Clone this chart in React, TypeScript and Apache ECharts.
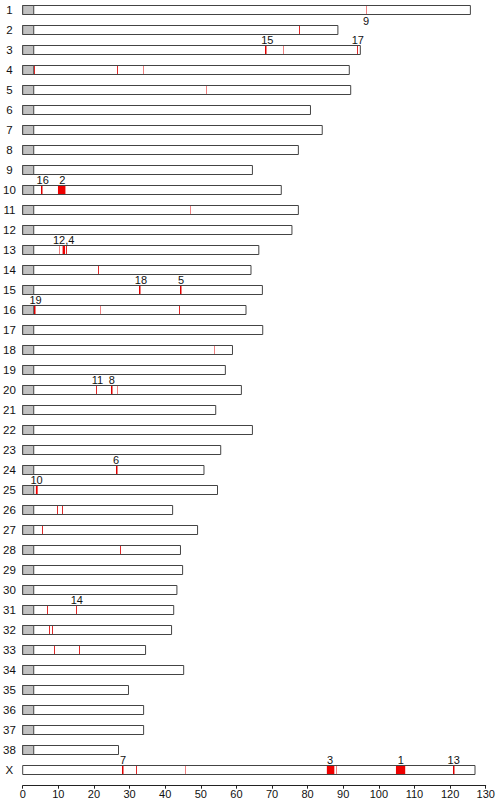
import React, { useEffect, useRef } from "react";
import * as echarts from "echarts";

const chromosomes = ["1","2","3","4","5","6","7","8","9","10","11","12","13","14","15","16","17","18","19","20","21","22","23","24","25","26","27","28","29","30","31","32","33","34","35","36","37","38","X"];
const lengths = [125.7, 88.5, 94.8, 91.7, 92.1, 80.8, 84.1, 77.4, 64.5, 72.6, 77.4, 75.6, 66.3, 64.1, 67.3, 62.7, 67.4, 58.9, 56.9, 61.4, 54.2, 64.5, 55.6, 50.9, 54.7, 42.1, 49.1, 44.3, 44.9, 43.3, 42.4, 41.8, 34.5, 45.2, 29.7, 33.95, 33.95, 26.9, 127.0];
const centromereEnds = [3.1,3.1,3.1,3.1,3.1,3.1,3.1,3.1,3.1,3.1,3.1,3.1,3.1,3.1,3.1,3.1,3.1,3.1,3.1,3.1,3.1,3.1,3.1,3.1,3.1,3.1,3.1,3.1,3.1,3.1,3.1,3.1,3.1,3.1,3.1,3.1,3.1,3.1,0];

// [chromosome, start, end, strength (1 weak .. 3 strong)]
const marks: [string, number, number, number][] = [
  ["1", 96.4, 96.4, 1],
  ["2", 77.7, 77.7, 2],
  ["3", 68.3, 68.3, 3],
  ["3", 73.1, 73.1, 1],
  ["3", 94.0, 94.0, 2],
  ["4", 3.3, 3.3, 2],
  ["4", 26.6, 26.6, 2],
  ["4", 33.8, 33.8, 1],
  ["5", 51.7, 51.7, 1],
  ["10", 5.4, 5.4, 3],
  ["10", 9.9, 12.0, 3],
  ["11", 47.1, 47.1, 1],
  ["13", 10.4, 10.4, 1],
  ["13", 11.2, 11.9, 3],
  ["13", 12.3, 12.3, 2],
  ["14", 21.2, 21.2, 2],
  ["15", 32.8, 32.8, 3],
  ["15", 44.3, 44.3, 3],
  ["16", 3.3, 3.3, 3],
  ["16", 21.8, 21.8, 1],
  ["16", 44.0, 44.0, 2],
  ["18", 53.8, 53.8, 1],
  ["20", 20.6, 20.6, 2],
  ["20", 24.9, 24.9, 3],
  ["20", 26.5, 26.5, 1],
  ["24", 26.4, 26.4, 3],
  ["25", 3.7, 4.2, 3],
  ["26", 9.8, 9.8, 2],
  ["26", 11.2, 11.2, 2],
  ["27", 5.6, 5.6, 2],
  ["28", 27.5, 27.5, 2],
  ["31", 7.0, 7.0, 2],
  ["31", 15.2, 15.2, 2],
  ["32", 7.6, 7.6, 2],
  ["32", 8.4, 8.4, 2],
  ["33", 9.0, 9.0, 2],
  ["33", 16.0, 16.0, 2],
  ["X", 28.2, 28.2, 3],
  ["X", 32.0, 32.0, 2],
  ["X", 45.7, 45.7, 1],
  ["X", 85.4, 87.5, 3],
  ["X", 88.2, 88.2, 1],
  ["X", 104.8, 107.4, 3],
  ["X", 121.0, 121.0, 3],
];

// [chromosome, position, label]
const markLabels: [string, number, string][] = [
  ["1", 96.4, "9"],
  ["3", 68.7, "15"],
  ["3", 94.1, "17"],
  ["10", 5.6, "16"],
  ["10", 11.1, "2"],
  ["13", 11.5, "12,4"],
  ["15", 33.2, "18"],
  ["15", 44.5, "5"],
  ["16", 3.6, "19"],
  ["20", 21.0, "11"],
  ["20", 25.0, "8"],
  ["24", 26.2, "6"],
  ["25", 3.9, "10"],
  ["31", 15.2, "14"],
  ["X", 28.2, "7"],
  ["X", 86.3, "3"],
  ["X", 106.2, "1"],
  ["X", 121.0, "13"],
];

const xTicks = { min: 0, max: 130, interval: 10 };

const FONT = "'Liberation Sans', Arial, sans-serif";
const BAR_H = 9;
const STRENGTH_COLORS = ["#f08080", "#e02828", "#e00000"];

export default function App() {
  const ref = useRef<HTMLDivElement>(null);
  useEffect(() => {
    if (!ref.current) return;
    const chart = echarts.init(ref.current, null, { renderer: "svg" });
    const idxOf = (c: string) => chromosomes.indexOf(c);

    const chromData = chromosomes.map((c, i) => [i, lengths[i], centromereEnds[i]]);
    const markData = marks.map((m) => [idxOf(m[0]), m[1], m[2], m[3]]);
    const labelData = markLabels.map((l) => [idxOf(l[0]), l[1], l[2]]);

    chart.setOption({
      animation: false,
      grid: { left: 22.3, right: 12.3, top: -2.2, bottom: 20, containLabel: false },
      xAxis: {
        type: "value",
        min: xTicks.min,
        max: xTicks.max,
        interval: xTicks.interval,
        offset: 5.7,
        splitLine: { show: false },
        axisLine: { show: true, lineStyle: { color: "#222", width: 1 } },
        axisTick: { show: true, length: 3, lineStyle: { color: "#222" } },
        axisLabel: { color: "#111", fontSize: 11, fontFamily: FONT, margin: 3 },
      },
      yAxis: {
        type: "category",
        data: chromosomes,
        inverse: true,
        axisLine: { show: false },
        axisTick: { show: false },
        splitLine: { show: false },
        axisLabel: { color: "#111", fontSize: 11.5, fontFamily: FONT, margin: 13.3, align: "center", interval: 0 },
      },
      series: [
        {
          type: "custom",
          coordinateSystem: "cartesian2d",
          encode: { x: [1, 2], y: 0 },
          data: chromData,
          silent: true,
          z: 1,
          renderItem: (params: any, api: any) => {
            const idx = api.value(0);
            const len = api.value(1);
            const cen = api.value(2);
            const p0 = api.coord([0, idx]);
            const p1 = api.coord([len, idx]);
            const top = p0[1] - BAR_H / 2;
            const children: any[] = [
              {
                type: "rect",
                shape: { x: p0[0], y: top, width: p1[0] - p0[0], height: BAR_H },
                style: { fill: "#ffffff", stroke: "#444", lineWidth: 1 },
              },
            ];
            if (cen > 0) {
              const pc = api.coord([cen, idx]);
              children.push({
                type: "rect",
                shape: { x: p0[0], y: top, width: pc[0] - p0[0], height: BAR_H },
                style: { fill: "#c0c0c0", stroke: "#444", lineWidth: 1 },
              });
            }
            return { type: "group", children };
          },
        },
        {
          type: "custom",
          coordinateSystem: "cartesian2d",
          encode: { x: [1, 2], y: 0 },
          data: markData,
          silent: true,
          z: 2,
          renderItem: (params: any, api: any) => {
            const idx = api.value(0);
            const s = api.value(1);
            const e = api.value(2);
            const st = api.value(3);
            const a = api.coord([s, idx]);
            const b = api.coord([e, idx]);
            let x = a[0];
            let w = b[0] - a[0];
            if (w < 1) {
              const lw = st === 3 ? 1.5 : 1;
              x = Math.round(a[0] - lw / 2);
              w = lw;
            }
            return {
              type: "rect",
              shape: { x, y: a[1] - BAR_H / 2 + 0.5, width: w, height: BAR_H - 1 },
              style: { fill: w > 1.6 ? "#ee0000" : STRENGTH_COLORS[st - 1] },
            };
          },
        },
        {
          type: "custom",
          coordinateSystem: "cartesian2d",
          encode: { x: 1, y: 0 },
          data: labelData,
          silent: true,
          z: 3,
          renderItem: (params: any, api: any) => {
            const idx = api.value(0);
            const pos = api.value(1);
            const text = labelData[params.dataIndex][2] as string;
            const p = api.coord([pos, idx]);
            const below = idx === 0;
            return {
              type: "text",
              x: p[0],
              y: below ? p[1] + BAR_H / 2 + 0.5 : p[1] - BAR_H / 2 - 0.3,
              style: {
                text,
                fill: "#111",
                font: `11px ${FONT}`,
                align: "center",
                verticalAlign: below ? "top" : "bottom",
              },
            };
          },
        },
      ],
    });
    return () => chart.dispose();
  }, []);
  return (
    <div
      ref={ref}
      style={{ position: "absolute", left: 0, top: 0, width: 498, height: 800 }}
    />
  );
}
